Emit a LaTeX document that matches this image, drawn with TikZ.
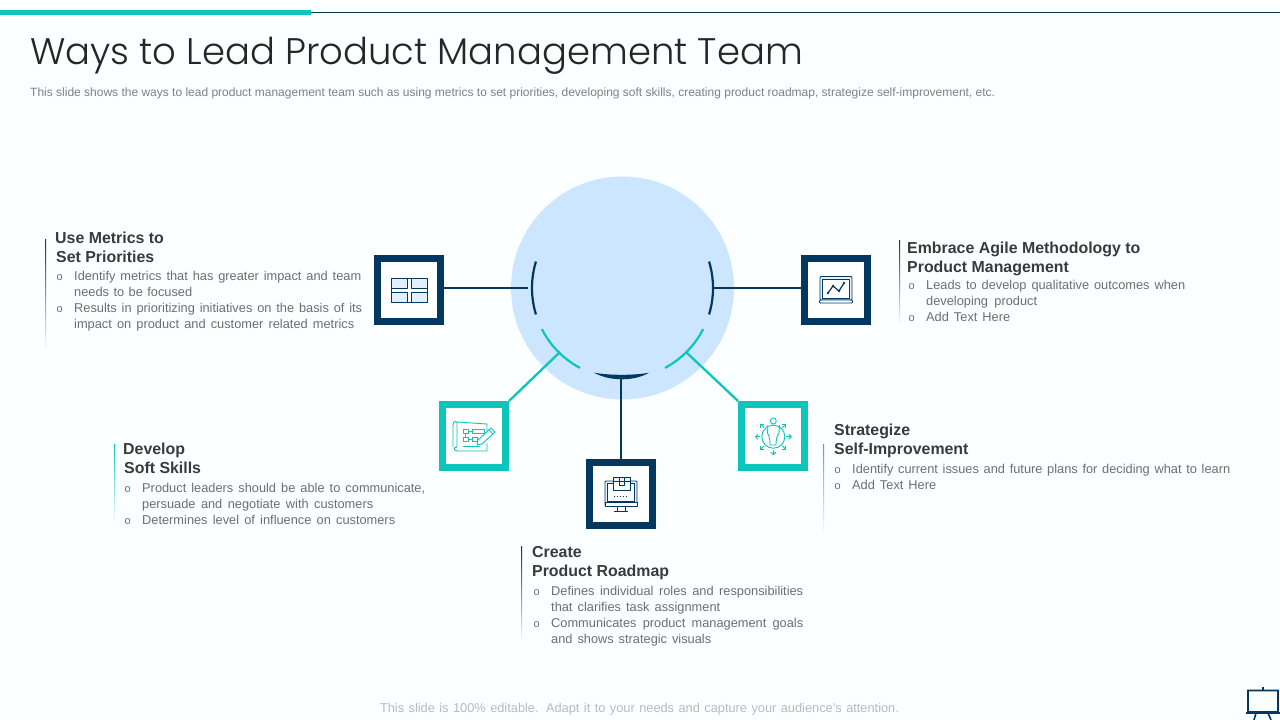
\documentclass[tikz,border=0pt]{standalone}
\usepackage{fontspec}
\setmainfont{Liberation Sans}
\newfontfamily\titlefont{Poppins Light}
\usepackage{tikz}
\usetikzlibrary{arrows.meta}
\definecolor{pagebg}{HTML}{FBFFFF}
\definecolor{navy}{HTML}{023760}
\definecolor{teal}{HTML}{0CC5BB}
\definecolor{disc}{HTML}{CCE6FF}
\definecolor{headtxt}{HTML}{3A3A3A}
\definecolor{bodytxt}{HTML}{6E6E6E}
\newcommand{\jl}[2]{\makebox[#1pt][s]{#2}}
\newcommand{\bu}{\makebox[0pt][r]{\fontsize{11}{11}\selectfont o\hspace{11.5pt}}}
\tikzset{
	iconbox/.style={draw=#1,line width=7pt,fill=white,minimum size=63pt,inner sep=0pt},
	heading/.style={anchor=north west,inner sep=0pt,align=left,text=headtxt,font=\fontsize{15.9}{19}\selectfont\bfseries},
	para/.style={anchor=north west,inner sep=0pt,align=left,text=bodytxt,font=\fontsize{12.8}{16}\selectfont},
	icon/.style={draw=#1,line width=.9pt,line join=round},
	wire/.style={draw=#1,line width=2.3pt},
}
\begin{document}
\begin{tikzpicture}[x=1pt,y=-1pt]
	\useasboundingbox(0,0)rectangle(1280,720);
	\fill[pagebg](0,0)rectangle(1280,720);
	% top rule and title
	\draw[navy,line width=1pt](311,12.5)--(1280,12.5);
	\fill[teal](0,10)rectangle(311,15);
	\node[anchor=base west,inner sep=0pt,text=black!85,font=\fontsize{37}{40}\selectfont\titlefont](ttl)at(30,64.5){Ways to Lead Product Management Team};
	\node[anchor=base west,inner sep=0pt,text=gray,font=\fontsize{12}{14}\selectfont](sub)at(30,96.5){\jl{965}{This slide shows the ways to lead product management team such as using metrics to set priorities, developing soft skills, creating product roadmap, strategize self-improvement, etc.}};
	% disc and arcs
	\fill[disc](622.5,288)circle(111.5);
	\draw[navy,line width=2.2pt,domain=163:197]plot({622.5+90.5*cos(\x)},{288+90.5*sin(\x)});
	\draw[navy,line width=2.2pt,domain=-17:17]plot({622.5+90.5*cos(\x)},{288+90.5*sin(\x)});
	\draw[teal,line width=2.2pt,domain=118:153]plot({622.5+90.5*cos(\x)},{288+90.5*sin(\x)});
	\draw[teal,line width=2.2pt,domain=27:62]plot({622.5+90.5*cos(\x)},{288+90.5*sin(\x)});
	\fill[navy](594,372.7)..controls(610,375.5)and(634,375.5)..(649,372.7)..controls(634,381.5)and(610,381.5)..(594,372.7);
	% boxes
	\node[iconbox=navy](metricsbox)at(409,290){};
	\node[iconbox=navy](agilebox)at(836,290){};
	\node[iconbox=teal](softbox)at(474,436){};
	\node[iconbox=teal](selfbox)at(773,436){};
	\node[iconbox=navy](roadbox)at(621,494){};
	% free ends on the arcs
	\coordinate(metricsend)at(528,288);
	\coordinate(agileend)at(713,288);
	\coordinate(softend)at(560,352);
	\coordinate(selfend)at(686,352);
	\coordinate(roadend)at(621,378);
	\draw[wire=navy](metricsend)--(metricsend-|metricsbox.east);
	\draw[wire=navy](agileend)--(agileend-|agilebox.west);
	\draw[wire=teal](softend)--(softbox.north east);
	\draw[wire=teal](selfend)--(selfbox.north west);
	\draw[wire=navy](roadend)--(roadbox.north);
	% icon: panes
	\fill[disc!60](391,278)rectangle(427,302);
	\fill[white](408,278)rectangle(410.5,302);
	\fill[white](391,289)rectangle(427,291.5);
	\draw[icon=navy](391,278)rectangle(427,302)(407,278)--(407,288)--(391,288)(411,278)--(411,288)--(427,288)(391,292)--(407,292)--(407,302)(427,292)--(411,292)--(411,302);
	% icon: laptop
	\draw[icon=navy,fill=disc!50,rounded corners=1pt](820,276.5)rectangle(852,300);
	\draw[icon=navy,fill=white,line width=.7pt](822.5,279)rectangle(849.5,298);
	\draw[icon=navy,fill=white,rounded corners=1pt](819.5,300)rectangle(852.5,303);
	\draw[icon=navy,line width=1.2pt](828,293)--(833,286)--(839,291)--(844,283);
	\foreach \px/\py in {828/293,833/286,839/291,844/283}\fill[navy](\px,\py)circle(1.4);
	% icon: blueprint
	\draw[icon=teal](457,422)--(487,424)--(487,431)(487,443)--(487,451)--(458,451)..controls(453,451)and(453,447)..(457,447)--(457,422)..controls(453,420)and(453,424)..(453,428)--(453,447);
	\draw[icon=teal](463,429)rectangle(468,433)(463,437)rectangle(468,441)(472,429)rectangle(484,433)(472,437)rectangle(477,441)(465.5,433)--(465.5,437)(468,431)--(472,431)(468,439)--(472,439)(463,446)--(480,446);
	\draw[icon=teal](477,445)--(478,440)--(491,428)--(495,432)--(482,444)--cycle(489,430)--(493,434);
	% icon: self improvement
	\draw[icon=teal](773.3,436.7)circle(11.5)(773.3,421)circle(3);
	\draw[icon=teal](767,425)--(767.5,433)..controls(770,437)and(770,443)..(770,445)--(776,445)..controls(776,443)and(776,437)..(779,433)--(779.5,425);
	\foreach \ang in {0,45,90,135,180,-45,-135}
		\draw[icon=teal,line width=.9pt,-{Straight Barb[length=2.5pt,width=5pt]}]({773.3+13*cos(\ang)},{436.7+13*sin(\ang)})--({773.3+18.5*cos(\ang)},{436.7+18.5*sin(\ang)});
	% icon: roadmap monitor
	\draw[icon=navy,fill=disc!50,rounded corners=1pt](605,481)rectangle(637,506);
	\draw[icon=navy,fill=white,line width=.7pt](607.5,483.5)rectangle(634.5,501);
	\draw[icon=navy,fill=white](605,502)rectangle(637,506);
	\draw[icon=navy](617,506)--(617,511)(625,506)--(625,511)(614,511)--(628,511);
	\draw[icon=navy,fill=white](613,477)rectangle(630,490);
	\draw[icon=navy,fill=disc!50](613,477)rectangle(630,481);
	\draw[icon=navy](619,477)--(619,485)--(624,485)--(624,477);
	\draw[icon=navy,dotted](614,496)--(627,496);
	% easel
	\draw[navy,line width=1.6pt](1263,687)--(1263,690.5)(1248,690.5)rectangle(1278,712)(1246,713)--(1282,713)(1256,713)--(1254,720)(1268,713)--(1271,720);
	% use metrics
	\shade[top color=navy,bottom color=pagebg](45,239)rectangle(46,350);
	\node[heading](metricshead)at(55,232){Use Metrics to\\\hspace{1pt}Set Priorities};
	\node[para](metricstxt)at(74,271.5){\bu\jl{287}{Identify metrics that has greater impact and team}\\\jl{118}{needs to be focused}\\\bu\jl{288}{Results in prioritizing initiatives on the basis of its}\\\jl{280}{impact on product and customer related metrics}};
	% agile
	\shade[top color=navy,bottom color=pagebg](899,240)rectangle(900,325);
	\node[heading](agilehead)at(907,242){Embrace Agile Methodology to\\Product Management};
	\node[para](agiletxt)at(926,280.5){\bu\jl{259}{Leads to develop qualitative outcomes when}\\\jl{111}{developing product}\\\bu\jl{84}{Add Text Here}};
	% soft skills
	\shade[top color=teal,bottom color=pagebg](114,444)rectangle(115,525);
	\node[heading](softhead)at(123,443){Develop\\\hspace{1pt}Soft Skills};
	\node[para](softtxt)at(142,483.5){\bu\jl{283}{Product leaders should be able to communicate,}\\\jl{231}{persuade and negotiate with customers}\\\bu\jl{253}{Determines level of influence on customers}};
	% self improvement
	\shade[top color=teal,bottom color=pagebg](823,444)rectangle(824,535);
	\node[heading](selfhead)at(834,424){Strategize\\Self-Improvement};
	\node[para](selftxt)at(852,464.5){\bu\jl{378}{Identify current issues and future plans for deciding what to learn}\\\bu\jl{84}{Add Text Here}};
	% roadmap
	\shade[top color=navy,bottom color=pagebg](521,546)rectangle(522,642);
	\node[heading](roadhead)at(532,546){Create\\Product Roadmap};
	\node[para](roadtxt)at(551,586.5){\bu\jl{252}{Defines individual roles and responsibilities}\\\jl{169}{that clarifies task assignment}\\\bu\jl{252}{Communicates product management goals}\\\jl{160}{and shows strategic visuals}};
	% footer
	\node[anchor=base,inner sep=0pt,text=black!27,font=\fontsize{12.8}{14}\selectfont](foot)at(639.5,712){\jl{519}{This slide is 100\% editable. Adapt it to your needs and capture your audience's attention.}};
\end{tikzpicture}
\end{document}
